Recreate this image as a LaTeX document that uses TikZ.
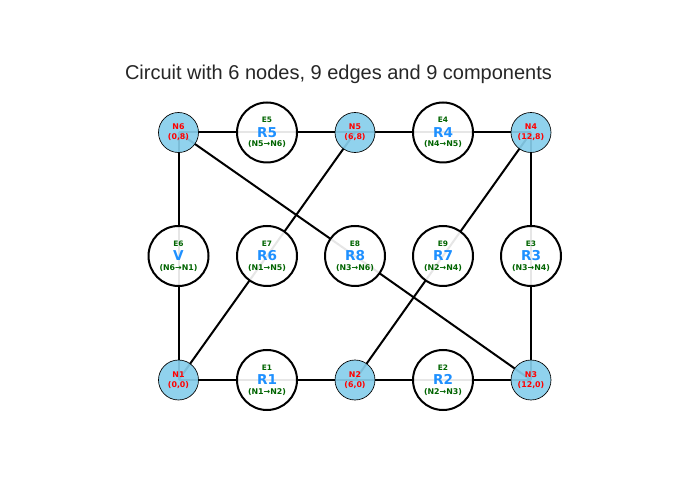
\documentclass[tikz,border=0pt]{standalone}
\usepackage{fontspec}
\setmainfont{DejaVu Sans}
\newfontfamily\titlefont{Liberation Sans}
\usetikzlibrary{backgrounds}
\definecolor{nodeblue}{HTML}{87CEEB}
\definecolor{valueblue}{HTML}{1E90FF}
\definecolor{edgegreen}{HTML}{006400}
\tikzset{
    junction/.style={circle, draw=black, line width=0.5pt, fill=nodeblue, fill opacity=0.92, text opacity=1,
        minimum size=30pt, inner sep=0pt, align=center, text=red, font=\bfseries\fontsize{5.9}{7.6}\selectfont},
    component/.style={circle, draw=black, line width=1.5pt, fill=white, fill opacity=0.9, text opacity=1,
        minimum size=45pt, inner sep=0pt, align=center},
    wire/.style={line width=1.5pt, black},
}
\newcommand{\complabel}[3]{{\color{edgegreen}\bfseries\fontsize{5.6}{7}\selectfont #1}\\[-1.3pt]
    {\color{valueblue}\bfseries\fontsize{10.2}{9}\selectfont #2}\\[-5pt]
    {\color{edgegreen}\bfseries\fontsize{5.9}{7}\selectfont #3}}
\begin{document}
\begin{tikzpicture}[x=0.75pt, y=0.75pt]
    \useasboundingbox (0,0) rectangle (700,500);

    \node[font=\titlefont\fontsize{15}{16}\selectfont, text=black!85] (title) at (338.5,425.5) {Circuit with 6 nodes, 9 edges and 9 components};

    % Junctions
    \node[junction] (N1) at (178.5,120) {N1\\(0,0)};
    \node[junction] (N2) at (355,120) {N2\\(6,0)};
    \node[junction] (N3) at (531,120) {N3\\(12,0)};
    \node[junction] (N4) at (531,367.5) {N4\\(12,8)};
    \node[junction] (N5) at (355,367.5) {N5\\(6,8)};
    \node[junction] (N6) at (178.5,367.5) {N6\\(0,8)};

    % Components
    \node[component] (R1) at (267,120) {\complabel{E1}{R1}{(N1→N2)}};
    \node[component] (R2) at (443,120) {\complabel{E2}{R2}{(N2→N3)}};
    \node[component] (R3) at (531,244) {\complabel{E3}{R3}{(N3→N4)}};
    \node[component] (R4) at (443,367.5) {\complabel{E4}{R4}{(N4→N5)}};
    \node[component] (R5) at (267,367.5) {\complabel{E5}{R5}{(N5→N6)}};
    \node[component] (V) at (178.5,244) {\complabel{E6}{V}{(N6→N1)}};
    \node[component] (R6) at (267,244) {\complabel{E7}{R6}{(N1→N5)}};
    \node[component] (R8) at (355,244) {\complabel{E8}{R8}{(N3→N6)}};
    \node[component] (R7) at (443,244) {\complabel{E9}{R7}{(N2→N4)}};

    % Wires
    \begin{pgfonlayer}{background}
        \foreach \from/\via/\to in {N1/R1/N2, N2/R2/N3, N3/R3/N4, N4/R4/N5, N5/R5/N6, N6/V/N1, N1/R6/N5, N2/R7/N4, N3/R8/N6}
            \draw[wire] (\from.center) -- (\via.center) -- (\to.center);
    \end{pgfonlayer}
\end{tikzpicture}
\end{document}
